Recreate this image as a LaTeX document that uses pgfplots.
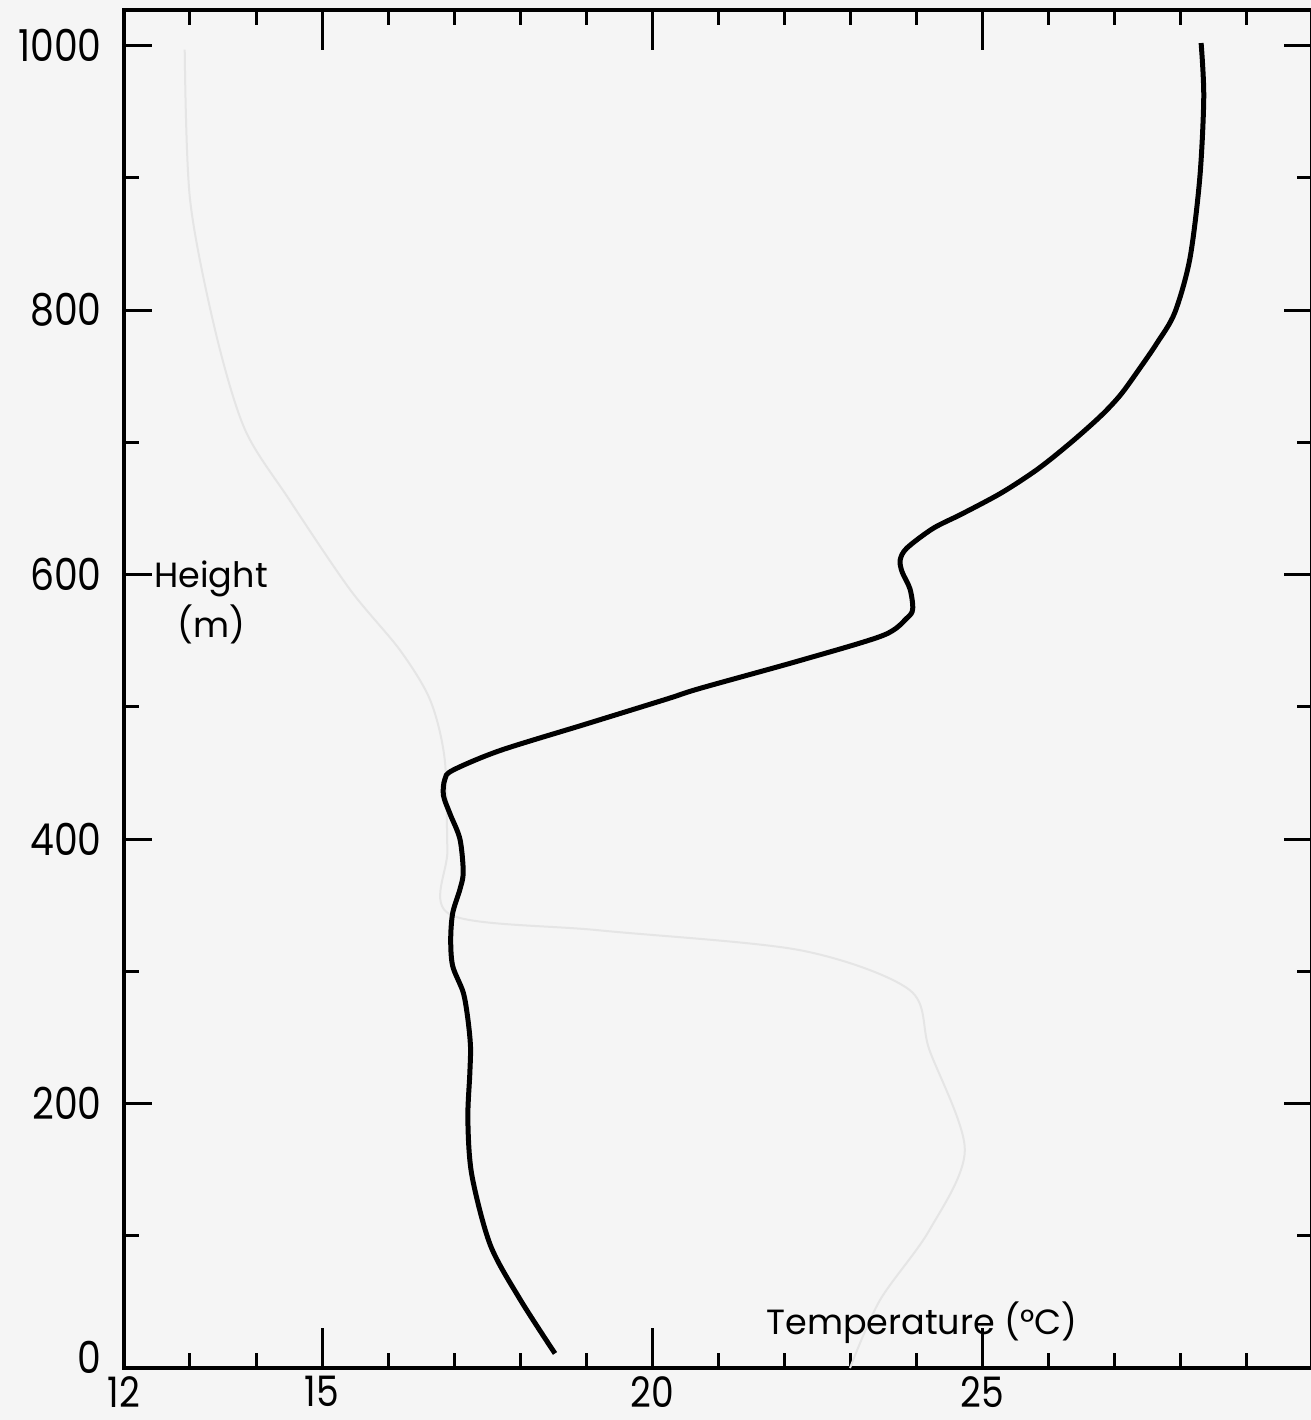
\documentclass[border=0pt]{standalone}
\usepackage{pgfplots}
\pgfplotsset{compat=1.18}
\usepackage{fontspec}
\setmainfont{Poppins}
\newfontfamily\tickfont[FakeStretch=0.86]{Poppins}
\definecolor{paper}{RGB}{245,245,245}
\definecolor{ghost}{RGB}{229,229,229}
\begin{document}
\begin{tikzpicture}
\fill[paper] (-37.2pt,-15.6pt) rectangle (356.1pt,410.4pt);
\begin{axis}[
  at={(0,0)}, anchor=south west,
  scale only axis,
  width=356.4pt, height=407.4pt,
  xmin=12, xmax=30, ymin=0, ymax=1027,
  axis line style={line width=1.2pt},
  tick align=inside,
  major tick length=12pt,
  minor tick length=4.5pt,
  tick style={line width=0.9pt, black},
  xtick={12,15,20,25},
  xticklabels={12,15,20,25},
  minor xtick={13,14,16,17,18,19,21,22,23,24,26,27,28,29},
  ytick={0,200,400,600,800,1000},
  yticklabels={\raisebox{6.6pt}{0},200,400,600,800,1000},
  minor ytick={100,300,500,700,900},
  ytick style={/pgfplots/major tick length=8.5pt},
  ticklabel style={font=\tickfont\fontsize{13.2}{14}\selectfont, inner sep=1pt},
  xticklabel style={font=\tickfont\fontsize{12.6}{14}\selectfont, yshift=-1.3pt},
  yticklabel style={xshift=-5.5pt},
  clip=false,
]
% faint show-through curve from the reverse side of the page
\addplot[ghost, line width=0.6pt, smooth] coordinates {
(12.92,997) (13.0,884) (13.38,785) (13.83,710) (14.5,657) (15.42,589)
(16.18,543) (16.64,505) (16.86,460) (16.9,392) (16.94,343) (19.2,331)
(22.24,316) (23.9,286) (24.2,241) (24.74,165) (24.2,104) (23.45,51) (23.0,0)
};
% temperature profile
\addplot[black, line width=1.5pt, smooth, tension=0.5] coordinates {
(18.53,11) (18.0,52) (17.55,93) (17.27,146) (17.21,188) (17.24,223)
(17.25,243) (17.21,264) (17.14,284) (16.98,304) (16.95,324) (16.98,344)
(17.09,362) (17.14,375) (17.09,400) (16.94,419) (16.84,433) (16.86,445)
(16.98,452) (17.7,467) (19.0,487) (20.23,506) (20.73,514) (22.24,535)
(23.5,554) (23.86,567) (23.95,574) (23.91,589) (23.79,602) (23.76,611)
(23.86,620) (24.26,635) (24.7,646) (25.3,662) (25.85,680) (26.35,700)
(26.8,720) (27.1,736) (27.39,756) (27.65,775) (27.92,798) (28.15,839)
(28.3,900) (28.36,961) (28.32,1002)
};
\node[font=\fontsize{10.5}{15}\selectfont, align=center] at (axis cs:13.32,579) {Height\\(m)};
\node[font=\fontsize{10.5}{15}\selectfont] at (axis cs:24.09,34) {Temperature (°C)};
\end{axis}
\pgfresetboundingbox
\path (-37.2pt,-15.6pt) rectangle (356.1pt,410.4pt);
\end{tikzpicture}
\end{document}
